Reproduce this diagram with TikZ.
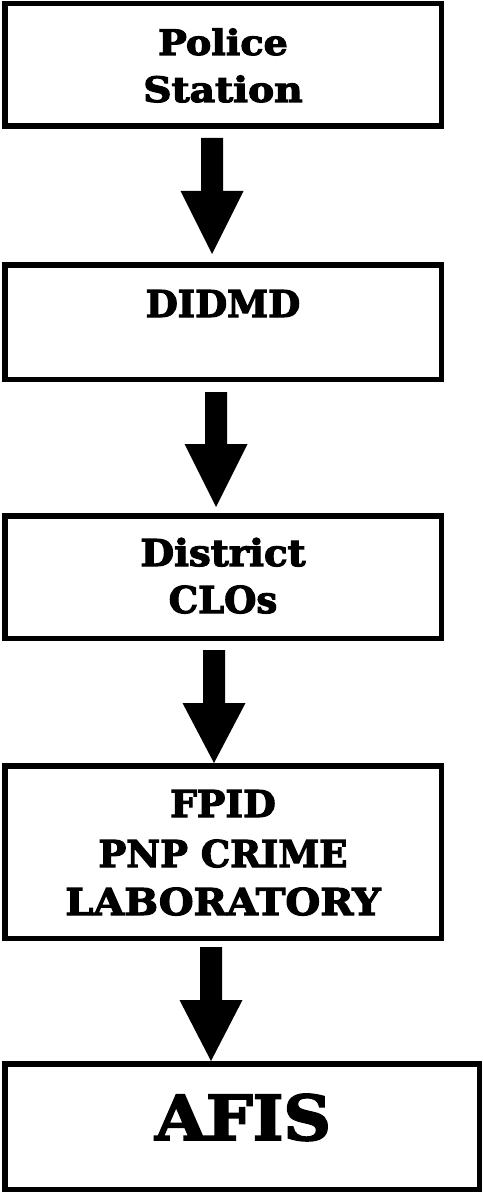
\documentclass[tikz,border=0pt]{standalone}
\usepackage{fontspec}
\setmainfont{DejaVu Serif}[BoldFeatures={FakeBold=3}]
\usetikzlibrary{calc}
\newcommand\blockarrow[6]{% from, to, x offset, top gap, shaft length, tip gap
  \coordinate (#1sx) at ($(#1.south)+(#3,0)$);
  \coordinate (#1tip) at ($(#1sx |- #2.north)+(0,-#6)$);
  \fill ($(#1sx)+(-11,#4)$) -- ($(#1sx)+(11,#4)$) -- ($(#1sx)+(11,#4+#5)$)
    -- ($(#1sx)+(31.5,#4+#5)$) -- (#1tip) -- ($(#1sx)+(-31.5,#4+#5)$)
    -- ($(#1sx)+(-11,#4+#5)$) -- cycle;}
\begin{document}
\begin{tikzpicture}[x=1pt,y=-1pt,
  flowbox/.style={draw,line width=5.5pt,inner sep=0pt,minimum width=436.5pt},
  lbl/.style={anchor=base,inner sep=0pt,font=\bfseries\fontsize{37}{44}\selectfont},
  smlbl/.style={lbl,font=\bfseries\fontsize{35}{42}\selectfont},
  biglbl/.style={lbl,font=\bfseries\fontsize{62}{70}\selectfont}]
\useasboundingbox (0,0) rectangle (482,1193);
\node[flowbox,minimum height=122.5pt] (b1) at (223,65) {};
\node[flowbox,minimum height=114.5pt] (b2) at (223,322) {};
\node[flowbox,minimum height=122.5pt] (b3) at (223,577) {};
\node[flowbox,minimum height=172.5pt] (b4) at (223,852) {};
\node[flowbox,minimum height=125.5pt,minimum width=474.5pt] (b5) at (242,1126.5) {};
\node[smlbl,xscale=1.09] (t1a) at (223,55) {Police};
\node[smlbl,xscale=1.12] (t1b) at (223,102) {Station};
\node[lbl] (t2) at (223,317) {DIDMD};
\node[lbl,xscale=1.05] (t3a) at (223,566) {District};
\node[lbl] (t3b) at (223,613) {CLOs};
\node[lbl,xscale=1.02] (t4a) at (223,817) {FPID};
\node[lbl] (t4b) at (223,867) {PNP CRIME};
\node[lbl,xscale=1.08] (t4c) at (223,915) {LABORATORY};
\node[biglbl,xscale=1.06] (t5) at (243,1140) {AFIS};
\blockarrow{b1}{b2}{-11}{9}{53}{8}
\blockarrow{b2}{b3}{-7}{10}{52}{6}
\blockarrow{b3}{b4}{-9}{9}{53}{0}
\blockarrow{b4}{b5}{-12}{6}{53}{0}
\end{tikzpicture}
\end{document}
